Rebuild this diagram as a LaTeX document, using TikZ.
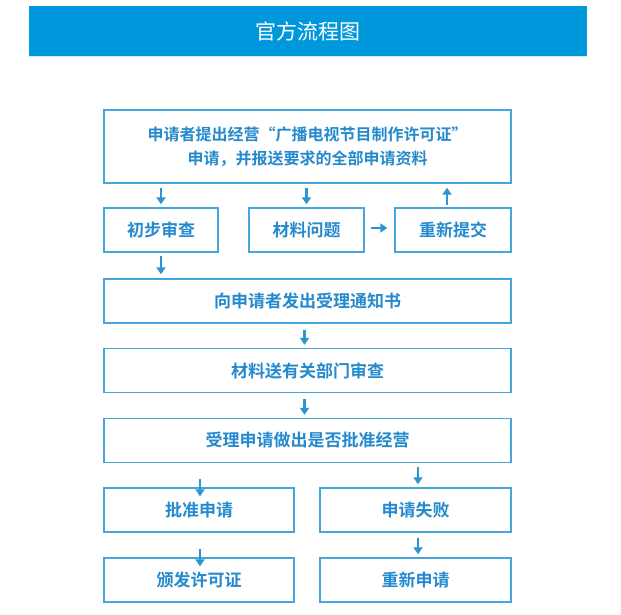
\documentclass[tikz,border=0pt]{standalone}
\usepackage{fontspec}
\newfontfamily\cjk{Noto Sans CJK SC}
\newfontfamily\cjkb{Noto Sans CJK SC Bold}
\usetikzlibrary{arrows.meta,calc}
\definecolor{barblue}{RGB}{0,152,221}
\definecolor{boxline}{RGB}{70,166,220}
\definecolor{txtblue}{RGB}{36,138,205}
\definecolor{arrblue}{RGB}{46,149,211}
\tikzset{
  box/.style={draw=boxline,line width=1.4pt,rectangle,inner sep=0pt,
    text=txtblue,font=\cjkb\fontsize{17}{20}\selectfont},
  arr/.style={draw=arrblue,line width=2.6pt,-{Triangle[length=7pt,width=9pt]}},
}
\begin{document}
\begin{tikzpicture}[x=1pt,y=-1pt]
\useasboundingbox (0,0) rectangle (621,615);
\fill[white] (0,0) rectangle (621,615);
\node[fill=barblue,minimum width=558pt,minimum height=50pt,inner sep=0pt,
  text=white,font=\cjk\fontsize{21}{24}\selectfont] (title) at (308,31) {官方流程图};
\draw[draw={rgb,255:red,200;green,236;blue,250},line width=1pt] (title.south west) -- (title.south east);
\node[box,minimum width=407pt,minimum height=73pt,align=center,
  font=\cjkb\fontsize{16}{24}\selectfont] (apply) at (307.5,146.5)
  {申请者提出经营“广播电视节目制作许可证”\\申请，并报送要求的全部申请资料};
\node[box,minimum width=114pt,minimum height=44pt] (prelim) at (161,230) {初步审查};
\node[box,minimum width=115pt,minimum height=44pt] (issue) at (306.5,230) {材料问题};
\node[box,minimum width=116pt,minimum height=44pt] (resub) at (453,230) {重新提交};
\node[box,minimum width=407pt,minimum height=44pt] (notice) at (307.5,301) {向申请者发出受理通知书};
\node[box,minimum width=407pt,minimum height=44pt] (dept) at (307.5,370.5) {材料送有关部门审查};
\node[box,minimum width=407pt,minimum height=44pt] (decide) at (307.5,440.5) {受理申请做出是否批准经营};
\node[box,minimum width=190pt,minimum height=44pt] (approve) at (199,510) {批准申请};
\node[box,minimum width=191pt,minimum height=44pt] (fail) at (415.5,510) {申请失败};
\node[box,minimum width=190pt,minimum height=44pt] (grant) at (199,580) {颁发许可证};
\node[box,minimum width=191pt,minimum height=44pt] (reapply) at (415.5,580) {重新申请};
% arrows
\draw[arr] ($(prelim.north |- apply.south)+(0,4)$) -- ($(prelim.north)+(0,-3)$);
\draw[arr] ($(issue.north |- apply.south)+(0,4)$) -- ($(issue.north)+(0,-3)$);
\draw[arr] ($(resub.north)+(-6,-2)$) -- ($(resub.north |- apply.south)+(-6,4)$);
\draw[arr] ($(issue.east)+(6,-2)$) -- ($(resub.west)+(-7,-2)$);
\draw[arr] ($(prelim.south)+(0,3)$) -- ($(prelim.south |- notice.north)+(0,-4)$);
\draw[arr] ($(notice.south)+(-3,6)$) -- ($(dept.north)+(-3,-3)$);
\draw[arr] ($(dept.south)+(-3,6)$) -- ($(decide.north)+(-3,-3)$);
\draw[arr] ($(approve.north)+(1,-8)$) -- ($(approve.north)+(1,9)$);
\draw[arr] ($(fail.north |- decide.south)+(2.5,4)$) -- ($(fail.north)+(2.5,-3)$);
\draw[arr] ($(grant.north)+(1,-8)$) -- ($(grant.north)+(1,9)$);
\draw[arr] ($(reapply.north |- fail.south)+(2.5,5)$) -- ($(reapply.north)+(2.5,-3)$);
\end{tikzpicture}
\end{document}
